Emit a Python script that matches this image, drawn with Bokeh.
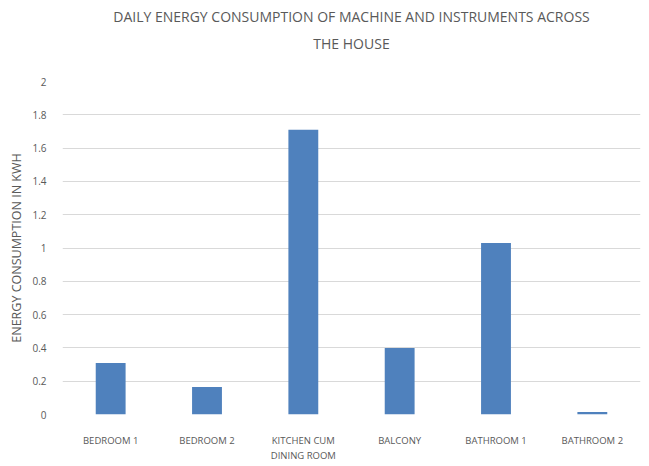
from bokeh.plotting import figure
from bokeh.embed import file_html
from bokeh.resources import INLINE
from bokeh.models import ColumnDataSource, FixedTicker, Range1d, Title

categories = ["BEDROOM 1", "BEDROOM 2", "KITCHEN CUM\nDINING ROOM", "BALCONY", "BATHROOM 1", "BATHROOM 2"]
values = [0.31, 0.165, 1.71, 0.40, 1.03, 0.015]
y_ticks = [0, 0.2, 0.4, 0.6, 0.8, 1, 1.2, 1.4, 1.6, 1.8, 2]
title_lines = ["DAILY ENERGY CONSUMPTION OF MACHINE AND INSTRUMENTS ACROSS", "THE HOUSE"]

FONT = "Open Sans"
GREY = "#595959"

src = ColumnDataSource(dict(cat=categories, val=values))

p = figure(x_range=categories, y_range=Range1d(0, 2), width=649, height=466,
           output_backend="svg", toolbar_location=None,
           min_border_left=62, min_border_right=9, min_border_top=81, min_border_bottom=52)
p.title = None

p.vbar(x="cat", top="val", width=0.31, source=src, fill_color="#4f81bd", line_color=None)

# spacer between title and plot frame
p.add_layout(Title(text=" ", text_font=FONT, text_font_size="14px", standoff=2), "above")
for line, so in zip(reversed(title_lines), [12, 0]):
    p.add_layout(Title(text=line, align="center", text_font=FONT, text_font_size="14px",
                       text_font_style="normal", text_color=GREY, standoff=so), "above")

p.outline_line_color = None
p.xgrid.grid_line_color = None
p.ygrid.grid_line_color = "#d9d9d9"
p.ygrid.grid_line_width = 1

p.yaxis.ticker = FixedTicker(ticks=y_ticks)
p.yaxis.axis_line_color = None
p.yaxis.major_tick_line_color = None
p.yaxis.minor_tick_line_color = None
p.yaxis.major_label_text_font = FONT
p.yaxis.major_label_text_font_size = "10px"
p.yaxis.major_label_text_color = GREY
p.yaxis.major_label_standoff = 10
p.yaxis.axis_label = "ENERGY CONSUMPTION IN KWH"
p.yaxis.axis_label_text_font = FONT
p.yaxis.axis_label_text_font_size = "12.5px"
p.yaxis.axis_label_text_font_style = "normal"
p.yaxis.axis_label_text_color = GREY
p.yaxis.axis_label_standoff = 4

p.xaxis.axis_line_color = None
p.xaxis.major_tick_line_color = None
p.xaxis.major_label_text_font = FONT
p.xaxis.major_label_text_font_size = "9.5px"
p.xaxis.major_label_text_color = GREY
p.xaxis.major_label_standoff = 13

p.background_fill_color = "white"
p.border_fill_color = "white"

open("out.html", "w").write(file_html(p, INLINE))
